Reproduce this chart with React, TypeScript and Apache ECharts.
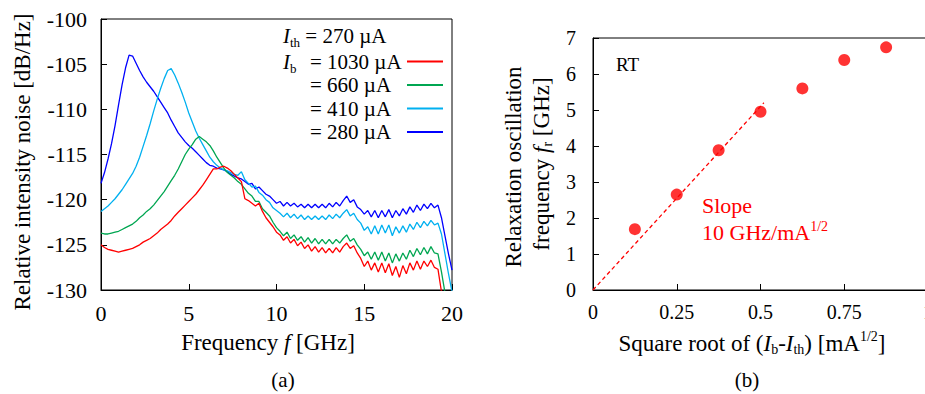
import React, { useEffect, useRef } from "react";
import * as echarts from "echarts";

// ---- Panel (a): relative intensity noise spectra ----
const freqGHz = [
  0, 0.2, 0.4, 0.6, 0.8, 1, 1.2, 1.4, 1.6, 1.8,
  2, 2.2, 2.4, 2.6, 2.8, 3, 3.2, 3.4, 3.6, 3.8,
  4, 4.2, 4.4, 4.6, 4.8, 5, 5.2, 5.4, 5.6, 5.8,
  6, 6.2, 6.4, 6.6, 6.8, 7, 7.2, 7.4, 7.6, 7.8,
  8, 8.2, 8.4, 8.6, 8.8, 9, 9.2, 9.4, 9.6, 9.8,
  10, 10.2, 10.4, 10.6, 10.8, 11, 11.2, 11.4, 11.6, 11.8,
  12, 12.2, 12.4, 12.6, 12.8, 13, 13.2, 13.4, 13.6, 13.8,
  14, 14.2, 14.4, 14.6, 14.8, 15, 15.2, 15.4, 15.6, 15.8,
  16, 16.2, 16.4, 16.6, 16.8, 17, 17.2, 17.4, 17.6, 17.8,
  18, 18.2, 18.4, 18.6, 18.8, 19, 19.2, 19.4, 19.6, 19.8,
  20,
];

const rin280 = [
  -118.2, -117.0, -115.5, -113.8, -111.8, -109.5, -107.3, -105.4, -104.0, -104.1,
  -104.9, -105.7, -106.4, -107.0, -107.5, -108.0, -108.6, -109.2, -109.8, -110.4,
  -111.2, -111.9, -112.6, -113.1, -113.6, -114.0, -114.3, -114.7, -115.1, -115.5,
  -115.9, -116.2, -116.3, -116.5, -116.6, -116.7, -116.9, -117.2, -117.4, -117.6,
  -117.7, -118.0, -118.3, -118.2, -118.8, -118.6, -119.0, -119.4, -119.6, -120.0,
  -120.4, -120.2, -120.7, -120.3, -120.7, -120.4, -120.8, -120.5, -120.9, -120.5,
  -120.9, -120.5, -120.9, -120.5, -120.9, -120.4, -120.8, -120.3, -120.7, -120.1,
  -119.6, -120.3, -120.0, -120.8, -121.1, -121.6, -121.2, -121.9, -121.2, -122.0,
  -121.2, -121.9, -121.1, -122.0, -121.2, -121.8, -121.0, -121.6, -120.8, -121.4,
  -120.6, -121.2, -120.5, -121.0, -120.4, -120.9, -120.6, -122.0, -124.0, -126.0,
  -127.8,
];

const rin410 = [
  -121.3, -121.0, -120.7, -120.3, -119.9, -119.4, -118.9, -118.3, -117.7, -117.1,
  -116.3, -115.3, -114.1, -112.9, -111.6, -110.2, -108.9, -107.7, -106.6, -105.7,
  -105.5, -106.2, -107.1, -108.1, -109.2, -110.4, -111.4, -112.4, -113.2, -113.9,
  -114.6, -115.3, -115.8, -116.2, -116.5, -116.7, -116.8, -117.0, -117.2, -117.3,
  -116.9, -117.8, -118.2, -118.6, -118.5, -119.2, -119.5, -120.0, -120.3, -120.9,
  -121.2, -121.5, -121.9, -121.5, -122.0, -121.6, -122.1, -121.7, -122.2, -121.8,
  -122.2, -121.8, -122.2, -121.8, -122.2, -121.7, -122.1, -121.6, -122.0, -121.5,
  -121.1, -121.8, -121.5, -122.2, -122.6, -123.4, -123.0, -123.8, -122.9, -123.8,
  -122.8, -123.7, -122.8, -124.0, -123.0, -123.7, -122.9, -123.6, -122.7, -123.3,
  -122.5, -123.1, -122.4, -122.9, -122.3, -122.8, -122.6, -123.8, -126.0, -128.2,
  -130.2,
];

const rin660 = [
  -123.7, -123.8, -123.8, -123.7, -123.6, -123.5, -123.3, -123.1, -122.9, -122.7,
  -122.4, -122.0, -121.7, -121.3, -121.0, -120.6, -120.1, -119.6, -119.1, -118.5,
  -117.9, -117.3, -116.6, -115.8, -115.0, -114.4, -113.9, -113.3, -113.0, -113.3,
  -113.6, -114.0, -114.6, -115.3, -115.9, -116.5, -117.0, -117.3, -117.6, -118.0,
  -118.3, -118.8, -119.3, -119.6, -120.2, -120.2, -121.0, -121.4, -121.8, -122.5,
  -123.1, -123.5, -124.0, -123.6, -124.3, -123.9, -124.5, -124.1, -124.7, -124.2,
  -124.8, -124.3, -124.9, -124.4, -124.9, -124.4, -124.9, -124.4, -124.8, -124.3,
  -123.9, -124.6, -124.3, -125.0, -125.5, -126.2, -125.8, -126.6, -125.8, -126.7,
  -125.8, -126.8, -125.9, -127.0, -126.0, -126.8, -125.9, -126.6, -125.6, -126.3,
  -125.4, -126.1, -125.3, -126.0, -125.2, -125.9, -126.0, -128.0, -130.3, -132.5,
  -134.5,
];

const rin1030 = [
  -125.0, -125.3, -125.5, -125.6, -125.7, -125.8, -125.7, -125.6, -125.5, -125.4,
  -125.2, -125.0, -124.7, -124.5, -124.3, -124.0, -123.7, -123.3, -123.0, -122.7,
  -122.3, -121.8, -121.4, -121.0, -120.6, -120.2, -119.8, -119.4, -118.9, -118.4,
  -117.8, -117.2, -116.6, -116.6, -116.4, -116.3, -116.5, -116.8, -117.2, -117.6,
  -118.0, -119.9, -120.1, -120.4, -120.7, -120.4, -121.3, -122.0, -122.5, -123.0,
  -123.6, -123.9, -124.5, -124.1, -124.8, -124.4, -125.1, -124.7, -125.4, -125.0,
  -125.7, -125.2, -125.8, -125.3, -125.9, -125.4, -125.9, -125.3, -125.8, -125.2,
  -124.8, -125.4, -125.1, -125.9, -126.5, -127.4, -126.8, -127.8, -127.0, -128.0,
  -127.0, -128.1, -127.1, -128.4, -127.4, -128.6, -127.3, -128.2, -127.0, -127.8,
  -126.8, -127.7, -126.8, -127.4, -126.7, -127.5, -127.7, -130.2, -132.5, -134.5,
  -136.5,
];

const seriesNames = ["= 1030 µA", "= 660 µA", "= 410 µA", "= 280 µA"];
const seriesColors = ["#ff0000", "#00a651", "#00b0f0", "#0000ff"];
const thresholdText = " = 270 µA";

// ---- Panel (b): relaxation oscillation frequency ----
const sqrtCurrent = [0.125, 0.25, 0.375, 0.5, 0.625, 0.75, 0.875];
const relaxFreqGHz = [1.69, 2.65, 3.88, 4.95, 5.6, 6.39, 6.74];
const fitX = [0, 0.51];
const fitY = [0, 5.2];

const SERIF = "Liberation Serif";

export default function App() {
  const ref = useRef<HTMLDivElement>(null);

  useEffect(() => {
    if (!ref.current) return;
    const chart = echarts.init(ref.current, undefined, { renderer: "svg" });

    const pair = (xs: number[], ys: number[]) => xs.map((x, i) => [x, ys[i]]);
    const curves = [rin1030, rin660, rin410, rin280];

    const axisCommon = (fontSize: number, margin: number) => ({
      type: "value" as const,
      axisLine: { show: true, onZero: false, lineStyle: { color: "#000", width: 1 } },
      axisTick: { show: true, inside: true, length: 6, lineStyle: { color: "#000", width: 1 } },
      axisLabel: { color: "#000", fontSize, fontFamily: SERIF, margin },
      splitLine: { show: false },
    });

    const nameRich = (size: number, color = "#000") => ({
      n: { fontSize: size, fontFamily: SERIF, fill: color, color, lineHeight: size + 4 },
      i: { fontSize: size, fontFamily: SERIF, fontStyle: "italic", fill: color, color, lineHeight: size + 4 },
      s: { fontSize: Math.round(size * 0.62), fontFamily: SERIF, fill: color, color, verticalAlign: "bottom", lineHeight: Math.round(size * 0.62) },
      u: { fontSize: Math.round(size * 0.62), fontFamily: SERIF, fill: color, color, verticalAlign: "top", lineHeight: Math.round(size * 0.62) },
    });

    const txt = (x: number, y: number, text: string, size: number, opts: any = {}) => ({
      type: "text",
      x,
      y,
      rotation: opts.rotation || 0,
      silent: true,
      style: {
        text,
        rich: nameRich(size, opts.color || "#000"),
        fontSize: size,
        fontFamily: SERIF,
        fill: opts.color || "#000",
        align: opts.align || "center",
        verticalAlign: "middle",
      },
    });

    const option: any = {
      animation: false,
      backgroundColor: "#fff",
      textStyle: { fontFamily: SERIF },
      grid: [
        { left: 101, top: 19, width: 351, height: 271, show: true, borderColor: "#000", borderWidth: 1, backgroundColor: "transparent", outerBoundsMode: "none", containLabel: false },
        { left: 593, top: 38, width: 335, height: 252, show: true, borderColor: "#000", borderWidth: 1, backgroundColor: "transparent", outerBoundsMode: "none", containLabel: false },
      ],
      xAxis: [
        { ...axisCommon(22, 12), gridIndex: 0, min: 0, max: 20, interval: 5 },
        { ...axisCommon(20, 12), gridIndex: 1, min: 0, max: 1, interval: 0.25 },
      ],
      yAxis: [
        { ...axisCommon(22, 14), gridIndex: 0, min: -130, max: -100, interval: 5 },
        { ...axisCommon(20, 17), gridIndex: 1, min: 0, max: 7, interval: 1 },
      ],
      legend: {
        data: seriesNames,
        orient: "vertical",
        left: 310,
        top: 51,
        padding: 0,
        align: "right",
        icon: "rect",
        itemWidth: 36,
        itemHeight: 2,
        itemGap: 2.5,
        selectedMode: false,
        formatter: (n: string) => `{v|${n}}`,
        textStyle: {
          color: "#000",
          fontSize: 21,
          fontFamily: SERIF,
          rich: { v: { width: 92, align: "left", fontSize: 21, fontFamily: SERIF, color: "#000", lineHeight: 22 } },
        },
      },
      series: [
        ...[3, 2, 1, 0].map((k) => ({
          type: "line",
          name: seriesNames[k],
          xAxisIndex: 0,
          yAxisIndex: 0,
          data: pair(freqGHz, curves[k]),
          showSymbol: false,
          symbol: "none",
          clip: true,
          lineStyle: { color: seriesColors[k], width: 1.3 },
          itemStyle: { color: seriesColors[k] },
          z: 2 + (3 - k),
        })),
        {
          type: "line",
          name: "fit",
          xAxisIndex: 1,
          yAxisIndex: 1,
          data: pair(fitX, fitY),
          showSymbol: false,
          symbol: "none",
          lineStyle: { color: "#ff0000", width: 1.3, type: [4, 3] },
        },
        {
          type: "scatter",
          name: "fr",
          xAxisIndex: 1,
          yAxisIndex: 1,
          data: pair(sqrtCurrent, relaxFreqGHz),
          symbol: "circle",
          symbolSize: 12,
          itemStyle: { color: "#ff0000" },
        },
      ],
      graphic: [
        // panel (a)
        txt(22, 162, "Relative intensity noise [dB/Hz]", 23, { rotation: Math.PI / 2 }),
        txt(268, 342, "{n|Frequency }{i|f}{n| [GHz]}", 23),
        txt(283, 380, "(a)", 21),
        txt(283, 36, `{i|I}{s|th}{n|${thresholdText}}`, 21, { align: "left" }),
        txt(283, 62, "{i|I}{s|b}", 21, { align: "left" }),
        // panel (b)
        txt(513, 167, "Relaxation oscillation", 23, { rotation: Math.PI / 2 }),
        txt(541, 164, "{n|frequency }{i|f}{s|r}{n| [GHz]}", 23, { rotation: Math.PI / 2 }),
        txt(752, 343, "{n|Square root of (}{i|I}{s|b}{n|-}{i|I}{s|th}{n|) [mA}{u|1/2}{n|]}", 23),
        txt(747, 380, "(b)", 21),
        txt(616, 64, "RT", 19, { align: "left" }),
        txt(702, 205, "Slope", 22, { align: "left", color: "#ff0000" }),
        txt(702, 232, "{n|10 GHz/mA}{u|1/2}", 22, { align: "left", color: "#ff0000" }),
      ],
    };

    chart.setOption(option);
    return () => chart.dispose();
  }, []);

  return (
    <div
      ref={ref}
      style={{ position: "fixed", left: 0, top: 0, width: 925, height: 394, background: "#fff" }}
    />
  );
}
